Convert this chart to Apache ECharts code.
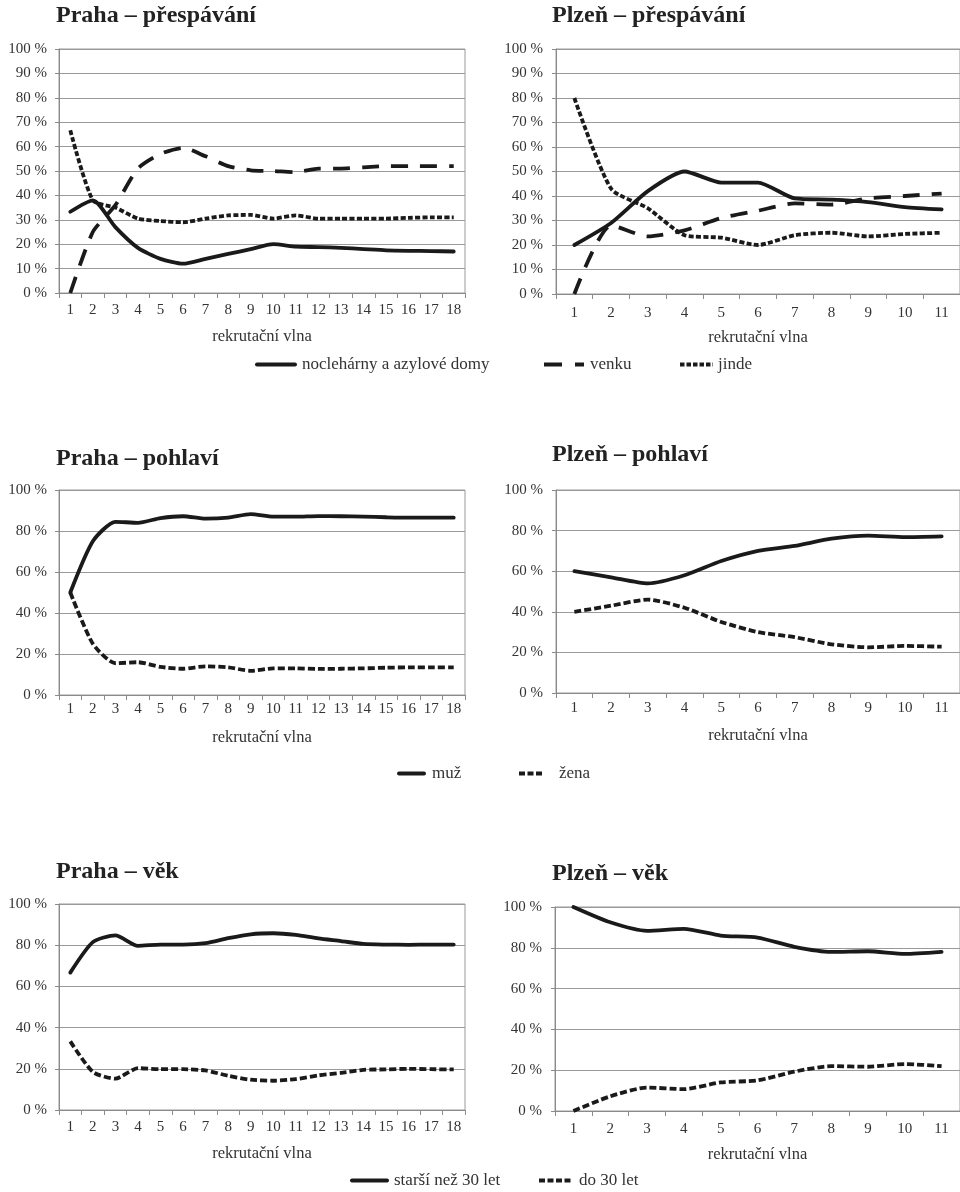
<!DOCTYPE html>
<html>
<head>
<meta charset="utf-8">
<script src="https://cdn.jsdelivr.net/npm/echarts@6/dist/echarts.min.js"></script>
<style>
html,body{margin:0;padding:0;background:#fff;}
#chart{width:960px;height:1192px;}
</style>
</head>
<body>
<div id="chart"></div>
<script>
// ---- data ----
const wavesPraha = ['1','2','3','4','5','6','7','8','9','10','11','12','13','14','15','16','17','18'];
const wavesPlzen = ['1','2','3','4','5','6','7','8','9','10','11'];

const titles = ['Praha – přespávání','Plzeň – přespávání','Praha – pohlaví','Plzeň – pohlaví','Praha – věk','Plzeň – věk'];
const axisName = 'rekrutační vlna';

const sleepNames = ['noclehárny a azylové domy','venku','jinde'];
const prahaNoclehárny = [33.3,38,27,18.5,14,12,14,16,18,20,19,18.8,18.5,18,17.5,17.3,17.2,17];
const prahaVenku      = [0,25,36,51,57,59.5,56,52,50.3,50,49.5,51,51,51.5,52,52,52,52];
const prahaJinde      = [66.7,38,35,30.5,29.5,29,30.5,31.8,32,30.5,31.8,30.5,30.5,30.5,30.5,30.8,31,31];
const plzenNoclehárny = [20,29,42,50,45.5,45.5,39,38.5,37.5,35.5,34.5];
const plzenVenku      = [0,28,23.5,26,31,34,37,36.5,39,40,41];
const plzenJinde      = [80,43,35,24,23,20,24,25,23.5,24.5,25];

const sexNames = ['muž','žena'];
const prahaMuz  = [50,75,84.5,84,86.3,87.2,86,86.5,88.2,87,87,87.3,87.2,87,86.7,86.5,86.5,86.5];
const prahaZena = [50,25,15.5,16,13.7,12.8,14,13.5,11.8,13,13,12.7,12.8,13,13.3,13.5,13.5,13.5];
const plzenMuz  = [60,57,54,58,65,70,72.5,76,77.5,76.8,77.2];
const plzenZena = [40,43,46,42,35,30,27.5,24,22.5,23.2,22.8];

const ageNames = ['starší než 30 let','do 30 let'];
const prahaStarsi = [66.7,81.5,84.8,79.7,80.3,80.3,81,83.4,85.3,85.8,85,83.3,82,80.6,80.3,80.2,80.3,80.3];
const prahaDo30   = [33.3,18.5,15.2,20.3,19.8,19.8,19.2,16.6,14.7,14.2,15,16.8,18,19.5,19.7,20,19.8,19.7];
const plzenStarsi = [100,92.5,88.3,89.3,86,85,80.5,78,78.3,77,78];
const plzenDo30   = [0,7.2,11.5,10.7,14,15,19.3,22,21.7,23,22];

// ---- styling ----
const FONT = 'Liberation Serif';
const INK = '#1a1a1a';
const LW = 3.8;
const solid = {type:'solid', width:LW, color:INK, cap:'round', join:'round'};
const longDash = {type:[17,12], width:LW, color:INK, cap:'butt', join:'round'};
const dotted = {type:[5,2.3], width:LW, color:INK, cap:'butt', join:'round'};
const shortDash = {type:[7,3], width:LW, color:INK, cap:'butt', join:'round'};

const grids = [
  {left:59, top:49, width:406, height:244},
  {left:556, top:49, width:406, height:245},
  {left:59, top:490, width:406, height:205},
  {left:556, top:490, width:406, height:203},
  {left:59, top:904, width:406, height:206},
  {left:555, top:907, width:406, height:204}
].map(g => Object.assign({show:true, borderColor:'#9a9a9a', borderWidth:1, containLabel:false}, g));

const cats = [wavesPraha, wavesPlzen, wavesPraha, wavesPlzen, wavesPraha, wavesPlzen];
const xMargins = [10, 12, 7, 8, 10, 11];
const xNameGaps = [35, 35, 34, 34, 35, 35];
const xAxes = cats.map((c,i) => ({
  type:'category', gridIndex:i, data:c, boundaryGap:true,
  axisLine:{show:true, lineStyle:{color:'#8a8a8a', width:1}},
  axisTick:{show:true, alignWithLabel:false, length:5, lineStyle:{color:'#8a8a8a'}},
  axisLabel:{fontFamily:FONT, fontSize:15, color:'#333', margin:xMargins[i], interval:0},
  name:axisName, nameLocation:'middle', nameGap:xNameGaps[i],
  nameTextStyle:{fontFamily:FONT, fontSize:16.5, color:'#333'}
}));
const yAxes = [10,10,20,20,20,20].map((iv,i) => ({
  type:'value', gridIndex:i, min:0, max:100, interval:iv,
  axisLine:{show:true, lineStyle:{color:'#8a8a8a', width:1}},
  axisTick:{show:true, length:4, lineStyle:{color:'#8a8a8a'}},
  splitLine:{show:true, lineStyle:{color:'#9a9a9a', width:1}},
  axisLabel:{fontFamily:FONT, fontSize:15, color:'#333', margin:(i%2===0?12:13), formatter:'{value} %'}
}));

function line(name, data, idx, ls){
  return {name, type:'line', xAxisIndex:idx, yAxisIndex:idx, data,
    smooth:0.22, symbol:'none', showSymbol:false, lineStyle:ls, itemStyle:{color:INK},
    emphasis:{disabled:true}};
}
const series = [
  line(sleepNames[0], prahaNoclehárny, 0, solid),
  line(sleepNames[1], prahaVenku, 0, longDash),
  line(sleepNames[2], prahaJinde, 0, dotted),
  line(sleepNames[0], plzenNoclehárny, 1, solid),
  line(sleepNames[1], plzenVenku, 1, longDash),
  line(sleepNames[2], plzenJinde, 1, dotted),
  line(sexNames[0], prahaMuz, 2, solid),
  line(sexNames[1], prahaZena, 2, shortDash),
  line(sexNames[0], plzenMuz, 3, solid),
  line(sexNames[1], plzenZena, 3, shortDash),
  line(ageNames[0], prahaStarsi, 4, solid),
  line(ageNames[1], prahaDo30, 4, shortDash),
  line(ageNames[0], plzenStarsi, 5, solid),
  line(ageNames[1], plzenDo30, 5, shortDash)
];

const titlePos = [[56,4],[552,4],[56,447],[552,443],[56,860],[552,862]];
const title = titles.map((t,i) => ({
  text:t, left:titlePos[i][0], top:titlePos[i][1], padding:0,
  textStyle:{fontFamily:FONT, fontWeight:'bold', fontSize:24, color:'#222'}
}));

function leg(name, left, top, w, pad, dash){
  const ls = {width:4, opacity:1};
  if (dash) ls.type = dash;
  return {data:[name], left, top, itemWidth:w, itemHeight:14, itemGap:0, padding:0,
    itemStyle:{opacity:0},
    lineStyle:ls,
    textStyle:{fontFamily:FONT, fontSize:17, color:'#333', padding:[0,0,0,pad]},
    selectedMode:false};
}
const legend = [
  leg(sleepNames[0], 255, 356, 38, 2),
  leg(sleepNames[1], 542, 356, 40, 1, [18,13,9,20]),
  leg(sleepNames[2], 678, 356, 33, 0, [4.5,2]),
  leg(sexNames[0], 397, 765, 25, 3),
  leg(sexNames[1], 517, 765, 25, 10, [6,2.5]),
  leg(ageNames[0], 350, 1172, 35, 2),
  leg(ageNames[1], 537, 1172, 33, 2, [6,2.5])
];

const chart = echarts.init(document.getElementById('chart'), null, {renderer:'canvas'});
chart.setOption({
  animation:false,
  backgroundColor:'#fff',
  title, legend, grid:grids, xAxis:xAxes, yAxis:yAxes, series,
  tooltip:{show:false}
});
</script>
</body>
</html>
